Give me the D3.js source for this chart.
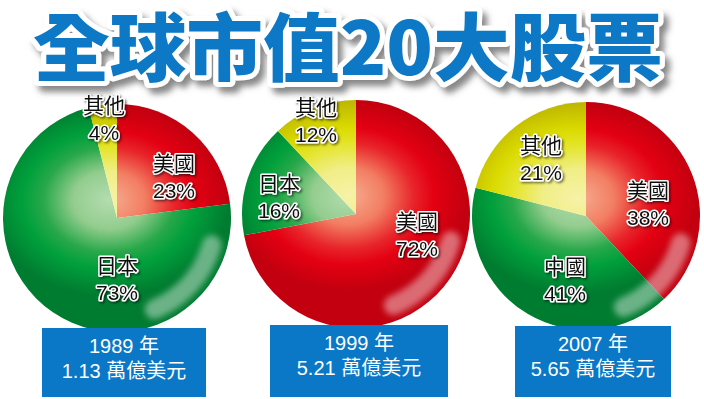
<!DOCTYPE html>
<html>
<head>
<meta charset="utf-8">
<script src="https://cdn.jsdelivr.net/npm/d3@7"></script>
<style>
  body { margin: 0; background: #fff; }
  svg { display: block; }
</style>
</head>
<body>
<svg id="chart" width="704" height="399"></svg>
<script>
// data
const title = "全球市值20大股票";
const years = ["1989 年", "1999 年", "2007 年"];
const totals = ["1.13 萬億美元", "5.21 萬億美元", "5.65 萬億美元"];
const names1989 = ["美國", "日本", "其他"];
const shares1989 = [23, 73, 4];
const names1999 = ["美國", "日本", "其他"];
const shares1999 = [72, 16, 12];
const names2007 = ["美國", "中國", "其他"];
const shares2007 = [38, 41, 21];

// layout
const pieX = [117, 356, 586];
const pieY = [218, 214, 216];
const radius = 114;
const boxes = [[42, 328, 164], [270, 325, 178], [515, 326, 156]]; // x, y, width
const labelOffsets = [
  [[57, -42], [0, 60], [-13, -100]],
  [[61, 20], [-77, -18], [-40, -94]],
  [[62, -13], [-21, 63], [-45, -58]]
];

const panels = [
  { names: names1989, shares: shares1989 },
  { names: names1999, shares: shares1999 },
  { names: names2007, shares: shares2007 }
];

const family = d3.scaleOrdinal()
  .domain(["美國", "日本", "中國", "其他"])
  .range(["red", "green", "green", "yellow"]);

const stops = {
  red: [[0, "#f6ae92"], [0.3, "#f27e62"], [0.55, "#e8242a"], [0.72, "#e30012"], [1, "#c2000f"]],
  green: [[0, "#b4dcb0"], [0.3, "#93cd8e"], [0.55, "#28a84a"], [0.72, "#00a03c"], [1, "#007c30"]],
  yellow: [[0, "#f6f2a8"], [0.3, "#f0ee86"], [0.55, "#e4e42a"], [0.72, "#dada00"], [1, "#bcb600"]]
};

const svg = d3.select("#chart");
const defs = svg.append("defs");

const blur = defs.append("filter").attr("id", "blur")
  .attr("x", "-20%").attr("y", "-20%").attr("width", "140%").attr("height", "140%");
blur.append("feGaussianBlur").attr("stdDeviation", 3);

const labelShadow = defs.append("filter").attr("id", "lshadow")
  .attr("x", "-20%").attr("y", "-20%").attr("width", "140%").attr("height", "140%");
labelShadow.append("feDropShadow")
  .attr("dx", 1.5).attr("dy", 1.5).attr("stdDeviation", 1)
  .attr("flood-color", "#000").attr("flood-opacity", 0.55);

const titleShadow = defs.append("filter").attr("id", "tshadow")
  .attr("x", "-5%").attr("y", "-20%").attr("width", "110%").attr("height", "150%");
titleShadow.append("feDropShadow")
  .attr("dx", 5).attr("dy", 6).attr("stdDeviation", 3)
  .attr("flood-color", "#555").attr("flood-opacity", 0.7);

const pie = d3.pie().sort(null).value(d => d);
const arc = d3.arc().innerRadius(0).outerRadius(radius);
const shine = d3.arc()
  .innerRadius(radius * 0.78).outerRadius(radius * 0.95)
  .startAngle(1.75).endAngle(2.85).cornerRadius(12);

// gradients live in the pie group's own coordinates (centre = 0,0)
["red", "green", "yellow"].forEach(key => {
  const g = defs.append("radialGradient")
    .attr("id", `grad-${key}`)
    .attr("gradientUnits", "userSpaceOnUse")
    .attr("cx", -8).attr("cy", -18).attr("r", radius * 1.05)
    .attr("gradientTransform", "translate(-8,-18) scale(1,0.8) translate(8,18)");
  g.selectAll("stop").data(stops[key]).join("stop")
    .attr("offset", d => d[0]).attr("stop-color", d => d[1]);
});

panels.forEach((p, i) => {
  const cx = pieX[i], cy = pieY[i];

  defs.append("clipPath").attr("id", `clip${i}`)
    .append("circle").attr("r", radius);

  const g = svg.append("g").attr("transform", `translate(${cx},${cy})`);

  g.selectAll("path.slice")
    .data(pie(p.shares))
    .join("path")
    .attr("class", "slice")
    .attr("d", arc)
    .attr("fill", (d, j) => `url(#grad-${family(p.names[j])})`);

  g.append("g").attr("clip-path", `url(#clip${i})`)
    .append("path")
    .attr("d", shine())
    .attr("fill", "#fff")
    .attr("opacity", 0.42)
    .attr("filter", "url(#blur)");

  const lab = g.selectAll("g.lab")
    .data(p.names)
    .join("g")
    .attr("class", "lab")
    .attr("transform", (d, j) => `translate(${labelOffsets[i][j][0]},${labelOffsets[i][j][1]})`)
    .attr("filter", "url(#lshadow)");

  lab.selectAll("text")
    .data((d, j) => [d, p.shares[j] + "%"])
    .join("text")
    .attr("y", (d, k) => k === 0 ? -13 : 14)
    .attr("text-anchor", "middle")
    .attr("dominant-baseline", "central")
    .attr("font-family", "'Liberation Sans', 'Noto Sans CJK TC', sans-serif")
    .attr("font-size", 21)
    .attr("fill", "#111")
    .attr("stroke", "#fff")
    .attr("stroke-width", 3)
    .attr("stroke-linejoin", "round")
    .attr("paint-order", "stroke")
    .text(d => d);

  // caption box
  const [bx, by, bw] = boxes[i];
  svg.append("rect")
    .attr("x", bx).attr("y", by).attr("width", bw).attr("height", 399 - by - 2)
    .attr("fill", "#0a78c6");
  svg.selectAll(null)
    .data([years[i], totals[i]])
    .join("text")
    .attr("x", bx + bw / 2)
    .attr("y", (d, k) => by + (k === 0 ? 18 : 43))
    .attr("text-anchor", "middle")
    .attr("dominant-baseline", "central")
    .attr("font-family", "'Liberation Sans', 'Noto Sans CJK TC', sans-serif")
    .attr("font-size", 20)
    .attr("fill", "#fff")
    .text(d => d);
});

// title: white outline, blue face, grey drop shadow
svg.append("text")
  .attr("x", 33).attr("y", 75)
  .attr("font-family", "'Noto Sans CJK TC', 'Noto Sans CJK SC', sans-serif")
  .attr("font-weight", 900)
  .attr("font-size", 74)
  .attr("textLength", 630)
  .attr("lengthAdjust", "spacingAndGlyphs")
  .attr("fill", "#0a78c6")
  .attr("stroke", "#fff")
  .attr("stroke-width", 10)
  .attr("stroke-linejoin", "round")
  .attr("paint-order", "stroke")
  .attr("filter", "url(#tshadow)")
  .text(title);
</script>
</body>
</html>
